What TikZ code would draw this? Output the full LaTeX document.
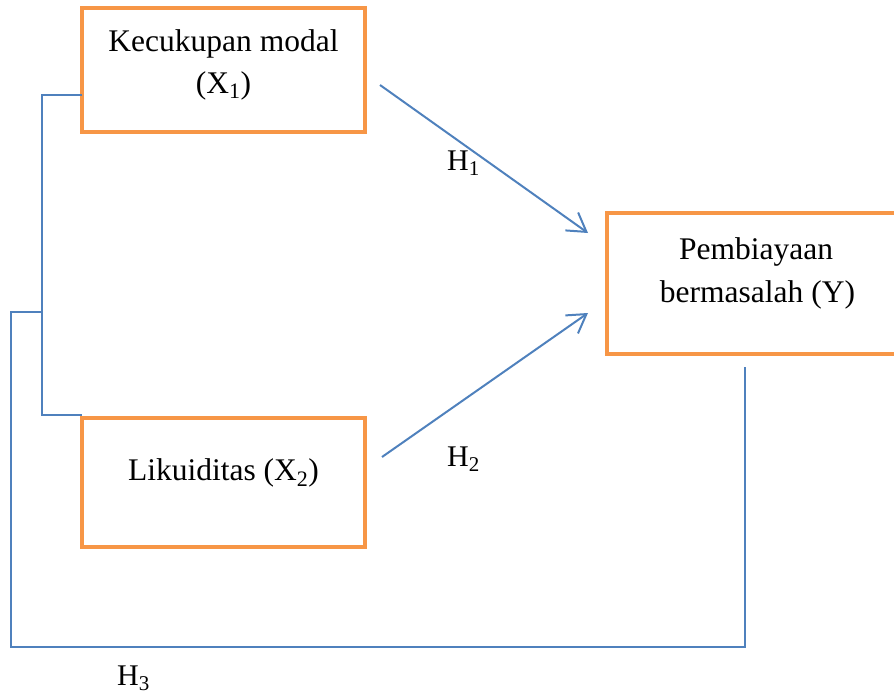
\documentclass[tikz,border=0pt]{standalone}
\usepackage{fontspec}
\setmainfont{Liberation Serif}
\usetikzlibrary{arrows.meta}
\definecolor{boxorange}{HTML}{F79646}
\definecolor{lineblue}{HTML}{4F81BD}
\begin{document}
\begin{tikzpicture}[x=1pt,y=-1pt,
  varbox/.style={draw=boxorange,line width=4pt,rectangle,inner sep=0pt},
  lbl/.style={anchor=base,inner sep=0pt,font=\fontsize{31.5}{41}\selectfont},
  hlbl/.style={anchor=base west,inner sep=0pt,font=\fontsize{30}{40}\selectfont},
  link/.style={draw=lineblue,line width=1.8pt},
  path/.style={draw=lineblue,line width=2pt,-{Straight Barb[length=18pt,width=22pt,line width=2pt]}}]
\useasboundingbox (0,0) rectangle (894,693);
% boxes
\node[varbox,minimum width=283pt,minimum height=124pt] (x1) at (223.5,70) {};
\node[varbox,minimum width=283pt,minimum height=129pt] (x2) at (223.5,482.5) {};
\node[varbox,minimum width=293pt,minimum height=141pt] (y) at (753.5,283.5) {};
% texts
\node[lbl] (x1a) at (223.5,51.7) {Kecukupan modal};
\node[lbl] (x1b) at (223.5,93) {(X\textsubscript{1})};
\node[lbl] (x2a) at (223.5,480) {Likuiditas (X\textsubscript{2})};
\node[lbl] (ya) at (756,259) {Pembiayaan};
\node[lbl] (yb) at (757.5,302) {bermasalah (Y)};
\node[hlbl] (h1) at (447,170) {H\textsubscript{1}};
\node[hlbl] (h2) at (447,466) {H\textsubscript{2}};
\node[hlbl] (h3) at (117,685) {H\textsubscript{3}};
% arrows
\coordinate (a1s) at (380,85);
\coordinate (a1e) at (588,233);
\coordinate (a2s) at (382,457);
\coordinate (a2e) at (588,313);
\draw[path] (a1s) -- (a1e);
\draw[path] (a2s) -- (a2e);
% bracket
\coordinate (b1) at (82,95);
\coordinate (b2) at (42,95);
\coordinate (b3) at (42,415);
\coordinate (b4) at (82,415);
\coordinate (c1) at (42,312);
\coordinate (c2) at (11,312);
\coordinate (c3) at (11,647);
\coordinate (c4) at (745,647);
\coordinate (c5) at (745,367);
\draw[link] (b1) -- (b2) -- (b3) -- (b4);
\draw[link] (c1) -- (c2) -- (c3) -- (c4) -- (c5);
\end{tikzpicture}
\end{document}
